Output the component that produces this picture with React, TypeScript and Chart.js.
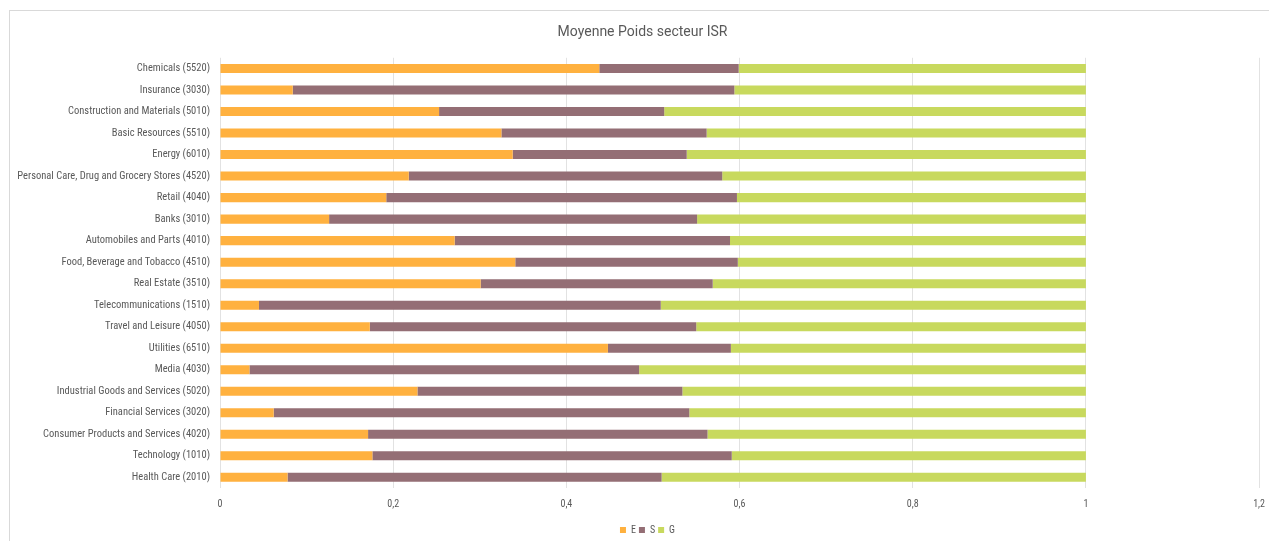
import React, { useEffect, useRef } from "react";
import { Chart, registerables } from "chart.js";

Chart.register(...registerables);

const title = "Moyenne Poids secteur ISR";

const categories = [
  "Chemicals (5520)",
  "Insurance (3030)",
  "Construction and Materials (5010)",
  "Basic Resources (5510)",
  "Energy (6010)",
  "Personal Care, Drug and Grocery Stores (4520)",
  "Retail (4040)",
  "Banks (3010)",
  "Automobiles and Parts (4010)",
  "Food, Beverage and Tobacco (4510)",
  "Real Estate (3510)",
  "Telecommunications (1510)",
  "Travel and Leisure (4050)",
  "Utilities (6510)",
  "Media (4030)",
  "Industrial Goods and Services (5020)",
  "Financial Services (3020)",
  "Consumer Products and Services (4020)",
  "Technology (1010)",
  "Health Care (2010)",
];

const eValues = [0.438, 0.084, 0.253, 0.325, 0.338, 0.218, 0.192, 0.126, 0.271, 0.341, 0.301, 0.045, 0.173, 0.448, 0.034, 0.228, 0.062, 0.171, 0.176, 0.078];
const sValues = [0.161, 0.510, 0.260, 0.237, 0.201, 0.362, 0.405, 0.425, 0.318, 0.257, 0.268, 0.464, 0.377, 0.142, 0.450, 0.306, 0.480, 0.392, 0.415, 0.432];
const gValues = [0.401, 0.406, 0.487, 0.438, 0.461, 0.420, 0.403, 0.449, 0.411, 0.402, 0.431, 0.491, 0.450, 0.410, 0.516, 0.466, 0.458, 0.437, 0.409, 0.490];

const seriesNames = ["E", "S", "G"];
const xTickLabels = ["0", "0,2", "0,4", "0,6", "0,8", "1", "1,2"];

const FONT = "'Liberation Sans Narrow', 'Roboto Condensed', Roboto, sans-serif";
const TITLE_FONT = "Roboto, 'Liberation Sans', sans-serif";
const TEXT = "#595959";

const shiftPlugin = {
  id: "shiftBlocks",
  afterLayout(chart: any) {
    const shifts: [any, number][] = [
      [chart.legend, 7],
      [chart.titleBlock, 2],
    ];
    for (const [b, dx] of shifts) {
      if (b) {
        b.left += dx;
        b.right += dx;
      }
    }
  },
};

export default function App() {
  const ref = useRef<HTMLCanvasElement | null>(null);

  useEffect(() => {
    if (!ref.current) return;
    const chart = new Chart(ref.current, {
      type: "bar",
      data: {
        labels: categories,
        datasets: [
          { label: seriesNames[0], data: eValues, backgroundColor: "#FFB13F", borderWidth: 0 },
          { label: seriesNames[1], data: sValues, backgroundColor: "#946E75", borderWidth: 0 },
          { label: seriesNames[2], data: gValues, backgroundColor: "#C8D95E", borderWidth: 0 },
        ],
      },
      plugins: [shiftPlugin],
      options: {
        indexAxis: "y",
        responsive: false,
        animation: false,
        devicePixelRatio: 1,
        datasets: { bar: { barPercentage: 0.42, categoryPercentage: 1 } },
        layout: { padding: { left: 0, right: 4, top: 0, bottom: 0 } },
        scales: {
          x: {
            stacked: true,
            min: 0,
            max: 1.2,
            ticks: {
              stepSize: 0.2,
              color: TEXT,
              font: { family: FONT, size: 10 },
              padding: 10,
              callback: (_v: any, i: number) => xTickLabels[i],
            },
            grid: { color: "#e2e2e2", drawTicks: false },
            border: { display: false },
            afterFit: (s: any) => { s.height = 34; },
          },
          y: {
            stacked: true,
            ticks: { color: TEXT, font: { family: FONT, size: 10.5 }, padding: 10, autoSkip: false },
            grid: { display: false, drawTicks: false },
            border: { display: false },
            afterFit: (s: any) => { s.width = 210; },
          },
        },
        plugins: {
          title: {
            display: true,
            text: title,
            color: TEXT,
            font: { family: TITLE_FONT, size: 14, weight: "normal" },
            padding: { top: 13, bottom: 17 },
          },
          legend: {
            position: "bottom",
            labels: {
              boxWidth: 6,
              boxHeight: 6,
              padding: 3,
              color: TEXT,
              font: { family: FONT, size: 10 },
            },
          },
          tooltip: { enabled: false },
        },
      },
    });
    return () => chart.destroy();
  }, []);

  return (
    <div
      style={{
        position: "fixed",
        left: 9,
        top: 10,
        width: 1266,
        height: 535,
        borderLeft: "1px solid #d9d9d9",
        borderTop: "1px solid #d9d9d9",
        background: "#fff",
      }}
    >
      <canvas ref={ref} width={1265} height={534} style={{ display: "block" }} />
    </div>
  );
}
